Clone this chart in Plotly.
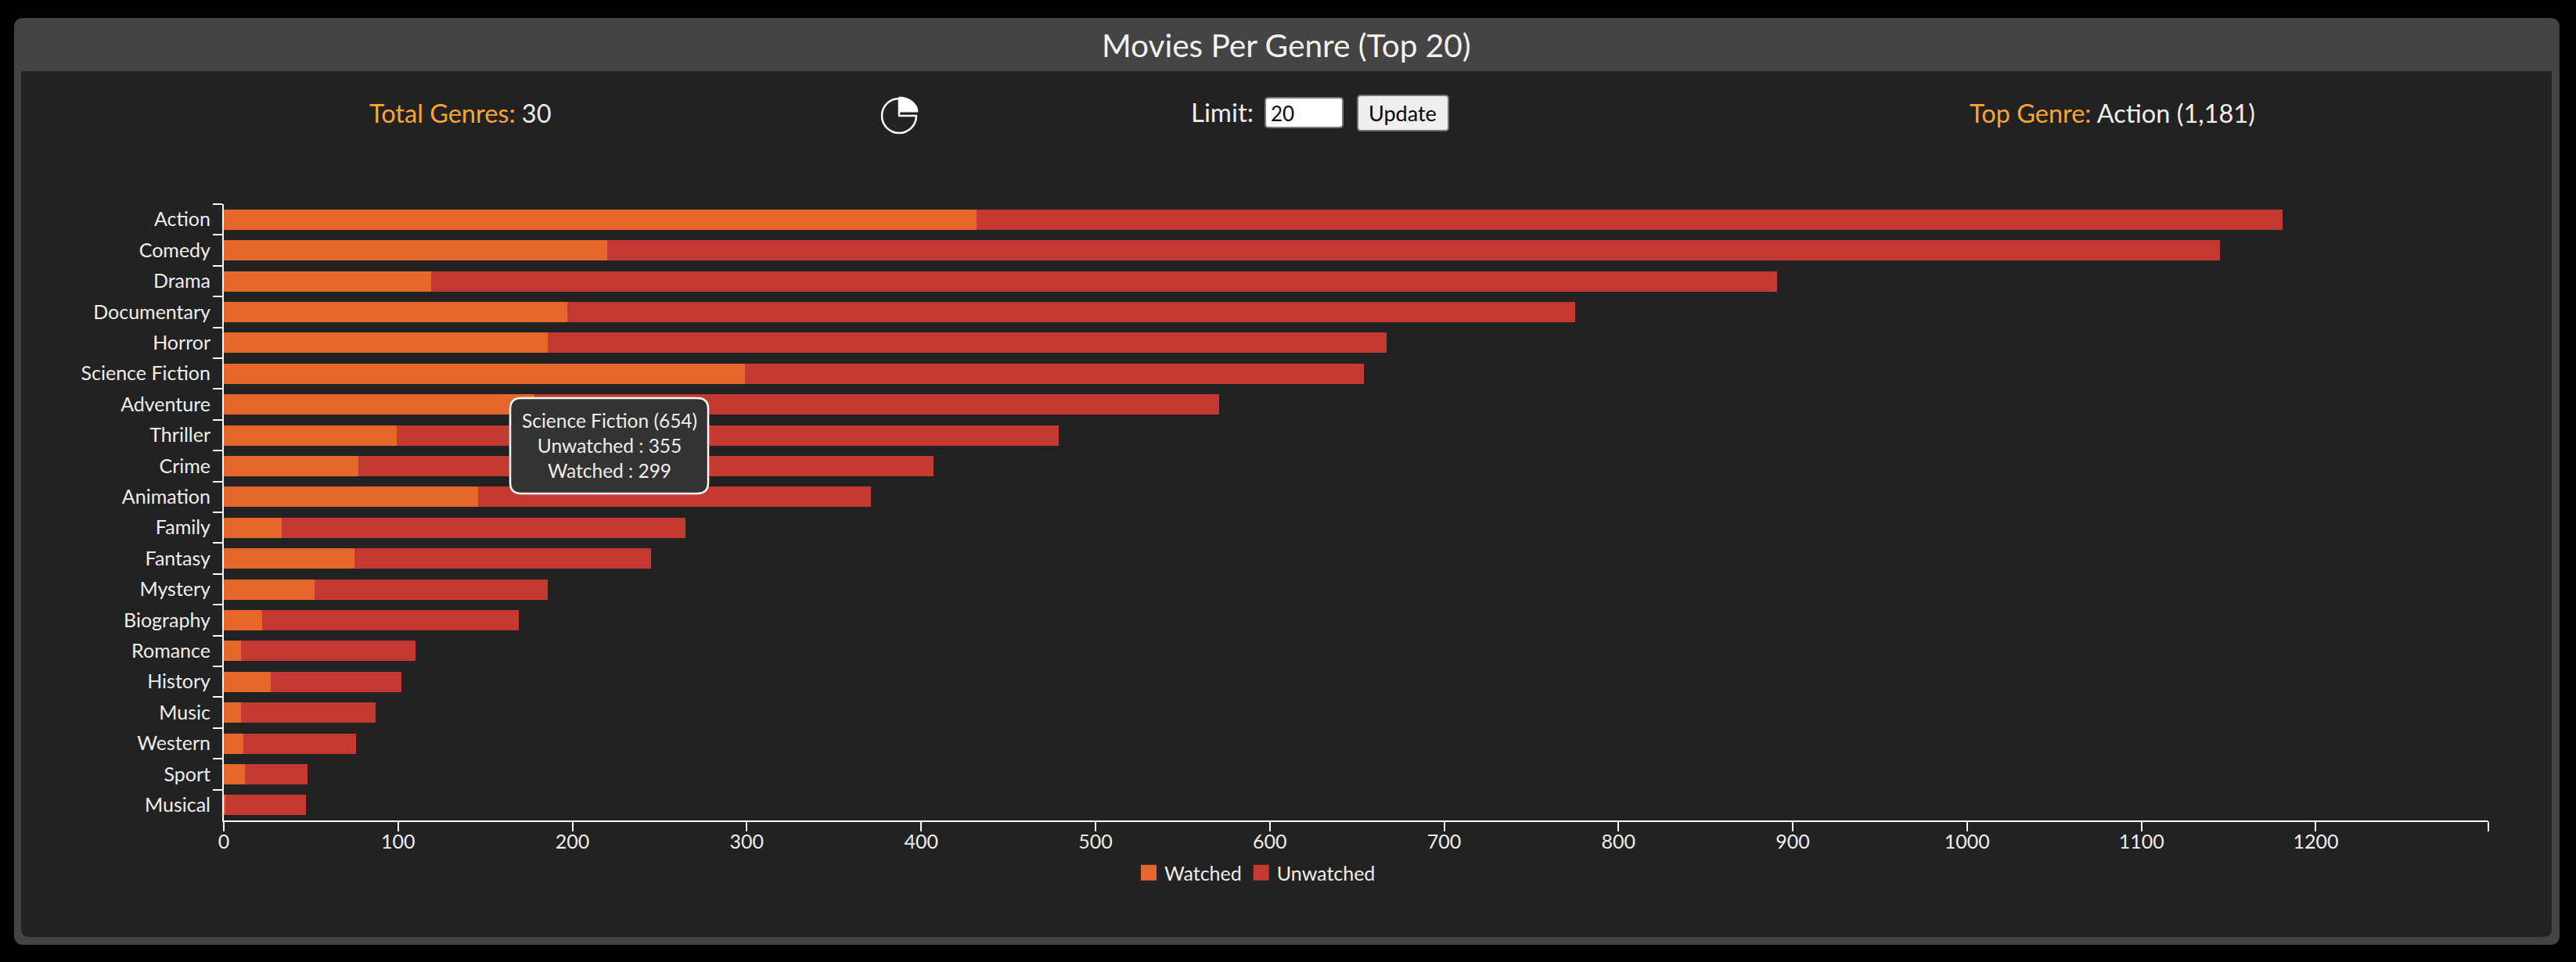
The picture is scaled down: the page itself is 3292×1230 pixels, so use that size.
import plotly.graph_objects as go

genres = ["Action", "Comedy", "Drama", "Documentary", "Horror", "Science Fiction", "Adventure",
          "Thriller", "Crime", "Animation", "Family", "Fantasy", "Mystery", "Biography",
          "Romance", "History", "Music", "Western", "Sport", "Musical"]
watched = [432, 220, 119, 197, 186, 299, 178, 99, 77, 146, 33, 75, 52, 22, 10, 27, 10, 11, 12, 1]
unwatched = [749, 925, 772, 578, 481, 355, 393, 380, 330, 225, 232, 170, 134, 147, 100, 75, 77, 65, 36, 46]
x_ticks = [0, 100, 200, 300, 400, 500, 600, 700, 800, 900, 1000, 1100, 1200, 1299]
x_labels = ["0", "100", "200", "300", "400", "500", "600", "700", "800", "900", "1000", "1100", "1200", ""]

W, H = 3292, 1230
L, R, T, B = 286, 3180, 261, 1049
FONT = "Lato"
ORANGE, RED = "#e5672c", "#c43a33"
TXT = "#eeeeee"


def px(x):
    return (x - L) / (R - L)


def py(y):
    return (B - y) / (B - T)


def rrect(x0, y0, x1, y1, r=(0, 0, 0, 0)):
    tl, tr, br, bl = r
    s = f"M{px(x0 + tl):.6f},{py(y0):.6f} L{px(x1 - tr):.6f},{py(y0):.6f} "
    s += f"Q{px(x1):.6f},{py(y0):.6f} {px(x1):.6f},{py(y0 + tr):.6f} "
    s += f"L{px(x1):.6f},{py(y1 - br):.6f} Q{px(x1):.6f},{py(y1):.6f} {px(x1 - br):.6f},{py(y1):.6f} "
    s += f"L{px(x0 + bl):.6f},{py(y1):.6f} Q{px(x0):.6f},{py(y1):.6f} {px(x0):.6f},{py(y1 - bl):.6f} "
    s += f"L{px(x0):.6f},{py(y0 + tl):.6f} Q{px(x0):.6f},{py(y0):.6f} {px(x0 + tl):.6f},{py(y0):.6f} Z"
    return s


def shape(path, fill, line=None, lw=0, layer="below"):
    return dict(type="path", xref="paper", yref="paper", path=path, fillcolor=fill,
                line=dict(color=line or fill, width=lw), layer=layer)


def label(text, x, y, size=25, color=TXT, xanchor="center"):
    return dict(text=text, x=px(x), y=py(y), xref="paper", yref="paper", showarrow=False,
                xanchor=xanchor, yanchor="middle", align="center",
                font=dict(family=FONT, size=size, color=color))


K = 0.5523
cx, cy, rad = 1149, 148, 22
pie = (f"M{px(cx):.6f},{py(cy - rad):.6f} "
       f"C{px(cx - K * rad):.6f},{py(cy - rad):.6f} {px(cx - rad):.6f},{py(cy - K * rad):.6f} {px(cx - rad):.6f},{py(cy):.6f} "
       f"C{px(cx - rad):.6f},{py(cy + K * rad):.6f} {px(cx - K * rad):.6f},{py(cy + rad):.6f} {px(cx):.6f},{py(cy + rad):.6f} "
       f"C{px(cx + K * rad):.6f},{py(cy + rad):.6f} {px(cx + rad):.6f},{py(cy + K * rad):.6f} {px(cx + rad):.6f},{py(cy):.6f} "
       f"L{px(cx):.6f},{py(cy):.6f} Z")
wx, wy, wrx, wry = 1149, 143, 24, 19
wedge = (f"M{px(wx):.6f},{py(wy - wry):.6f} "
         f"C{px(wx + K * wrx):.6f},{py(wy - wry):.6f} {px(wx + wrx):.6f},{py(wy - K * wry):.6f} {px(wx + wrx):.6f},{py(wy):.6f} "
         f"L{px(wx):.6f},{py(wy):.6f} Z")

shapes = [
    shape(rrect(18, 23, 3271, 1208, (12, 12, 12, 12)), "#444444"),
    shape(rrect(27, 91, 3261, 1198, (0, 0, 10, 10)), "#222222"),
    shape(pie, "rgba(0,0,0,0)", "#ffffff", 2.5),
    shape(wedge, "#ffffff", "#ffffff", 1),
    shape(rrect(1617, 125, 1716, 163, (4, 4, 4, 4)), "#ffffff", "#767676", 2),
    shape(rrect(1735, 122, 1851, 167, (4, 4, 4, 4)), "#efefef", "#767676", 2),
    shape(rrect(652, 509, 905, 631, (14, 14, 14, 14)), "#333333", "#ffffff", 2.5, layer="above"),
]

annotations = [
    label("Movies Per Genre (Top 20)", 1644, 57, 40.6, "#f2f2f2"),
    label("<span style='color:#f9a52f'>Total Genres:</span> 30", 588, 145, 32.5),
    label("<span style='color:#f9a52f'>Top Genre:</span> Action (1,181)", 2699, 145, 32.5),
    label("Limit:", 1562, 143, 33),
    label("20", 1622, 145, 26, "#000000", "left"),
    label("Update", 1793, 145, 27, "#000000"),
    label("Science Fiction (654)<br>Unwatched : 355<br>Watched : 299", 778.5, 569, 24.5),
]

fig = go.Figure()
fig.add_bar(y=genres, x=watched, orientation="h", name="Watched", marker=dict(color=ORANGE, line_width=0), showlegend=False)
fig.add_bar(y=genres, x=unwatched, orientation="h", name="Unwatched", marker=dict(color=RED, line_width=0), showlegend=False)
for name, col in (("Watched", ORANGE), ("Unwatched", RED)):
    fig.add_scatter(x=[None], y=[None], mode="markers", name=name,
                    marker=dict(symbol="square", size=16, color=col, line=dict(color=col, width=4)))

fig.update_layout(
    width=W, height=H, barmode="stack", bargap=0.34,
    paper_bgcolor="#000000", plot_bgcolor="rgba(0,0,0,0)",
    margin=dict(l=L, r=W - R, t=T, b=H - B, pad=0),
    font=dict(family=FONT, size=25, color=TXT),
    showlegend=True,
    legend=dict(orientation="h", traceorder="normal", x=px(1448), y=py(1116), xanchor="left", yanchor="middle",
                bgcolor="rgba(0,0,0,0)", font=dict(family=FONT, size=25, color=TXT)),
    shapes=shapes, annotations=annotations,
    xaxis=dict(range=[0, 1299], tickmode="array", tickvals=x_ticks, ticktext=x_labels,
               ticks="outside", ticklen=12, tickwidth=2, tickcolor="#ffffff", ticklabelstandoff=-8,
               showline=True, linewidth=2, linecolor="#ffffff", showgrid=False, zeroline=False,
               tickfont=dict(family=FONT, size=25, color=TXT)),
    yaxis=dict(categoryorder="array", categoryarray=genres, range=[19.5, -0.5], tickson="boundaries",
               ticks="outside", ticklen=12, tickwidth=2, tickcolor="#ffffff", ticklabelstandoff=10,
               showline=True, linewidth=2, linecolor="#ffffff", showgrid=False, zeroline=False,
               tickfont=dict(family=FONT, size=25, color=TXT)),
)

fig.write_html("out.html", config=dict(displayModeBar=False),
               post_script="document.body.style.margin='0';document.body.style.background='#000';")
